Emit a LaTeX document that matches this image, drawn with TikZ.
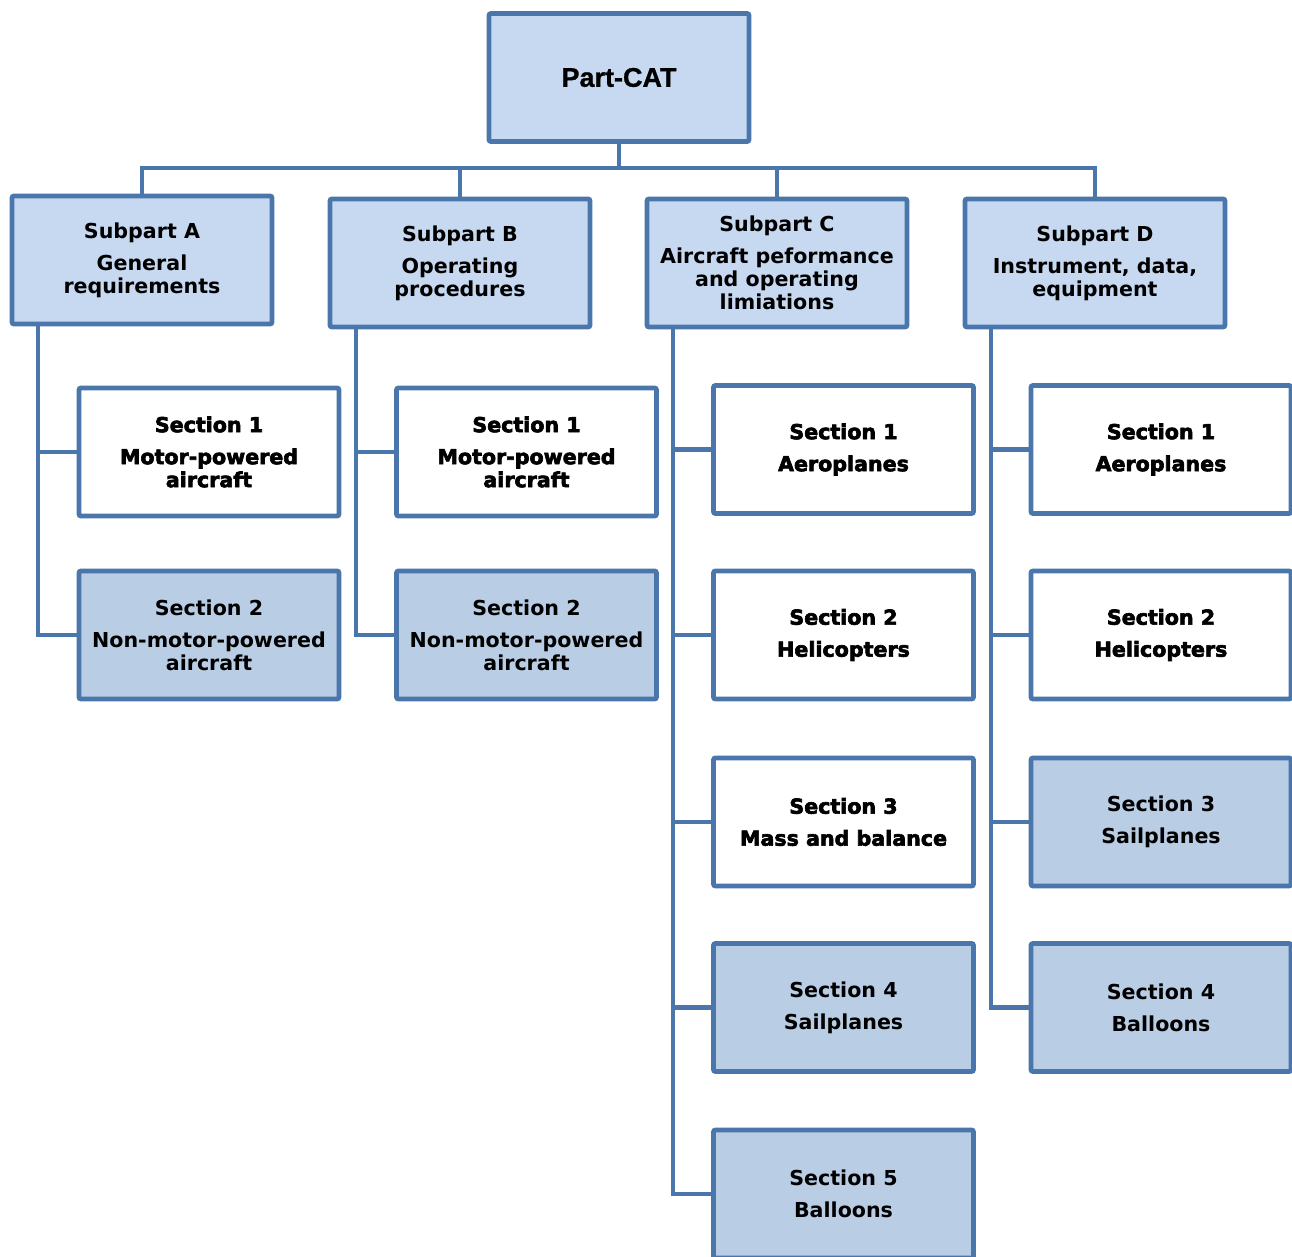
\documentclass[tikz,border=0pt]{standalone}
\usepackage{fontspec}
\setmainfont{DejaVu Sans}
\newfontfamily\headfont{Liberation Sans Bold}[FakeBold=1]
\newfontfamily\heavyfont{DejaVu Sans Bold}[FakeBold=3]
\definecolor{boxline}{RGB}{74,118,172}
\definecolor{lightfill}{RGB}{198,217,240}
\definecolor{midfill}{RGB}{185,205,229}

\begin{document}
\begin{tikzpicture}[x=0.5pt, y=-0.5pt,
                    box/.style={rectangle, draw=boxline, line width=2.4pt, rounded corners=1pt,
                                minimum width=130pt, minimum height=64pt, inner sep=0pt, align=center},
                    part/.style={box, fill=lightfill, font=\headfont\fontsize{13.5}{15}\selectfont},
                    subpart/.style={box, fill=lightfill, font=\bfseries\fontsize{10.3}{11.5}\selectfont},
                    plain/.style={box, fill=white, font=\heavyfont\fontsize{10.3}{11.5}\selectfont},
                    shaded/.style={box, fill=midfill, font=\bfseries\fontsize{10.3}{11.5}\selectfont},
                    link/.style={draw=boxline, line width=2.2pt}]

                    \useasboundingbox (0,0) rectangle (1292,1257);

                    % Define nodes (top of the tree)
                    \node[part] (cat) at (619,77.5) {Part-CAT};
                    \node[subpart] (subA) at (142,260) {Subpart A\\[4.5pt]General\\requirements};
                    \node[subpart] (subB) at (460,263) {Subpart B\\[4.5pt]Operating\\procedures};
                    \node[subpart] (subC) at (777,263) {Subpart C\\[4.5pt]Aircraft peformance\\and operating\\limiations};
                    \node[subpart] (subD) at (1095,263) {Subpart D\\[4.5pt]Instrument, data,\\equipment};

                    % Sections of Subpart A
                    \node[plain] (a1) at (209,452) {Section 1\\[4.5pt]Motor-powered\\aircraft};
                    \node[shaded] (a2) at (209,635) {Section 2\\[4.5pt]Non-motor-powered\\aircraft};

                    % Sections of Subpart B
                    \node[plain] (b1) at (526.5,452) {Section 1\\[4.5pt]Motor-powered\\aircraft};
                    \node[shaded] (b2) at (526.5,635) {Section 2\\[4.5pt]Non-motor-powered\\aircraft};

                    % Sections of Subpart C
                    \node[plain] (c1) at (843.5,449.5) {Section 1\\[4.5pt]Aeroplanes};
                    \node[plain] (c2) at (843.5,635) {Section 2\\[4.5pt]Helicopters};
                    \node[plain] (c3) at (843.5,822) {Section 3\\[4.5pt]Mass and balance};
                    \node[shaded] (c4) at (843.5,1007.5) {Section 4\\[4.5pt]Sailplanes};
                    \node[shaded] (c5) at (843.5,1194) {Section 5\\[4.5pt]Balloons};

                    % Sections of Subpart D
                    \node[plain] (d1) at (1161,449.5) {Section 1\\[4.5pt]Aeroplanes};
                    \node[plain] (d2) at (1161,635) {Section 2\\[4.5pt]Helicopters};
                    \node[shaded] (d3) at (1161,822) {Section 3\\[4.5pt]Sailplanes};
                    \node[shaded] (d4) at (1161,1007.5) {Section 4\\[4.5pt]Balloons};

                    % Define connector points
                    \coordinate (bus) at (619,168);
                    \coordinate (spineA) at (38,326);
                    \coordinate (spineB) at (356,329);
                    \coordinate (spineC) at (673,329);
                    \coordinate (spineD) at (991,329);

                    % Define edges
                    \draw[link] (cat.south) -- (bus);
                    \draw[link] (bus) -| (subA.north);
                    \draw[link] (bus) -| (subB.north);
                    \draw[link] (bus) -| (subC.north);
                    \draw[link] (bus) -| (subD.north);

                    \draw[link] (spineA) |- (a1.west);
                    \draw[link] (spineA) |- (a2.west);
                    \draw[link] (spineB) |- (b1.west);
                    \draw[link] (spineB) |- (b2.west);

                    \draw[link] (spineC) |- (c1.west);
                    \draw[link] (spineC) |- (c2.west);
                    \draw[link] (spineC) |- (c3.west);
                    \draw[link] (spineC) |- (c4.west);
                    \draw[link] (spineC) |- (c5.west);

                    \draw[link] (spineD) |- (d1.west);
                    \draw[link] (spineD) |- (d2.west);
                    \draw[link] (spineD) |- (d3.west);
                    \draw[link] (spineD) |- (d4.west);
                \end{tikzpicture}
\end{document}
